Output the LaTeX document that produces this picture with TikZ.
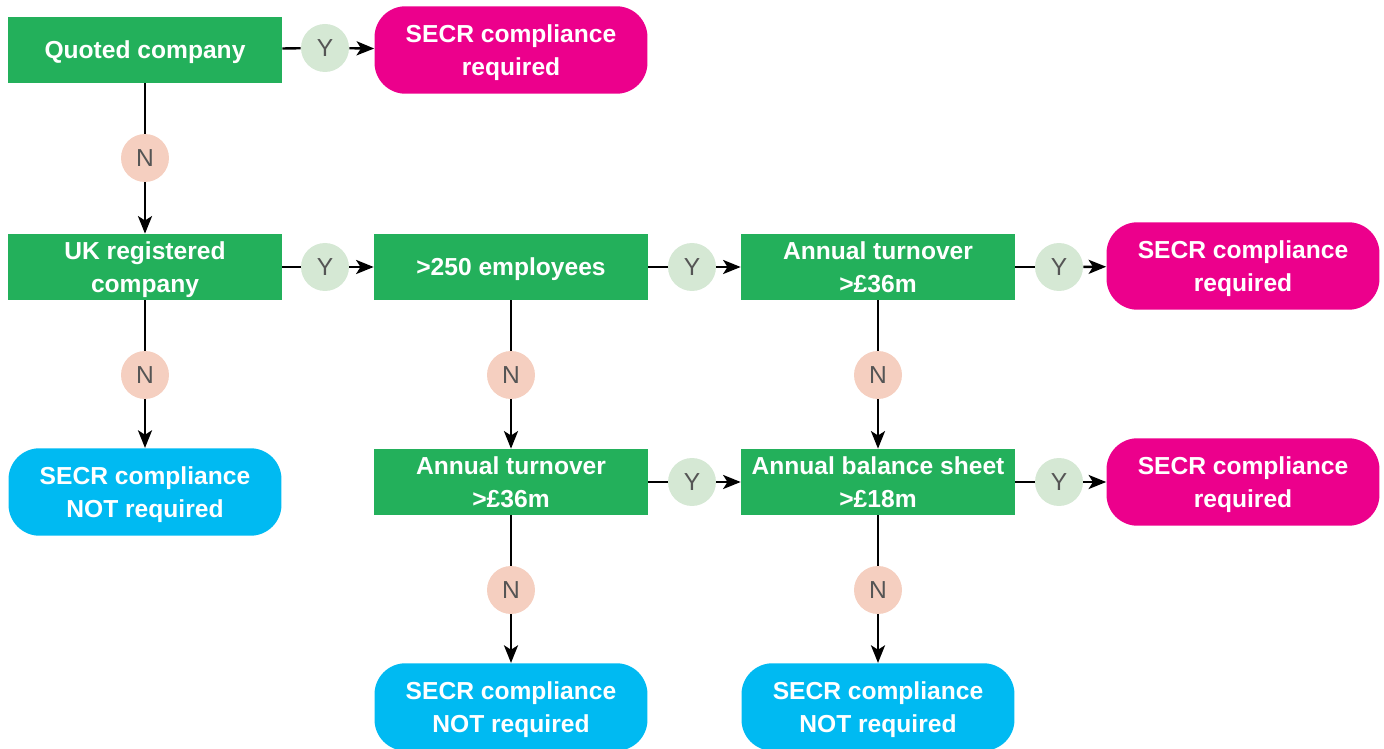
\documentclass[tikz,border=0pt]{standalone}
\usepackage{fontspec}
\setmainfont{Liberation Sans}
\usetikzlibrary{arrows.meta}

\definecolor{verde}{HTML}{23B05B}
\definecolor{rosa}{HTML}{EC008C}
\definecolor{celeste}{HTML}{00BAF2}
\definecolor{sifondo}{HTML}{D5E8D4}
\definecolor{nofondo}{HTML}{F5CFC0}
\definecolor{letra}{HTML}{555555}

\tikzset{
  pregunta/.style={fill=verde, text=white, font=\bfseries\fontsize{14}{18.8}\selectfont,
    align=center, minimum width=5.48cm, minimum height=1.32cm, inner sep=0pt,
    text depth=-1.4pt},
  final/.style={pregunta, minimum width=5.46cm, minimum height=1.75cm,
    rounded corners=0.62cm, text depth=-3.8pt},
  si/.style={circle, fill=sifondo, text=letra, font=\fontsize{14}{16}\selectfont,
    minimum size=0.96cm, inner sep=0pt},
  no/.style={si, fill=nofondo},
  linea/.style={line width=1.35pt},
  flecha/.style={linea, -{Stealth[length=10pt,width=8pt,inset=2.5pt]}}
}

\begin{document}
\begin{tikzpicture}[x=0.02cm, y=-0.02cm]
\useasboundingbox (0,0) rectangle (1384,749);
% Preguntas
\node[pregunta] (quoted) at (145,50) {Quoted company};
\node[pregunta] (uk) at (145,267) {UK registered\\company};
\node[pregunta] (empl) at (511,267) {>250 employees};
\node[pregunta] (turnA) at (878,267) {Annual turnover\\>£36m};
\node[pregunta] (turnB) at (511,482) {Annual turnover\\>£36m};
\node[pregunta] (balance) at (878,482) {Annual balance sheet\\>£18m};
% Resultados
\node[final, fill=rosa] (reqA) at (511,50) {SECR compliance\\required};
\node[final, fill=rosa] (reqB) at (1243,266) {SECR compliance\\required};
\node[final, fill=rosa] (reqC) at (1243,482) {SECR compliance\\required};
\node[final, fill=celeste] (notA) at (145,492) {SECR compliance\\NOT required};
\node[final, fill=celeste] (notB) at (511,707) {SECR compliance\\NOT required};
\node[final, fill=celeste] (notC) at (878,707) {SECR compliance\\NOT required};
% Respuestas Y
\node[si] (quotedY) at (325,48) {Y};
\node[si] (ukY) at (325,267) {Y};
\node[si] (emplY) at (692,267) {Y};
\node[si] (turnAY) at (1059,267) {Y};
\node[si] (turnBY) at (692,482) {Y};
\node[si] (balanceY) at (1059,482) {Y};
% Respuestas N
\node[no] (quotedN) at (145,158) {N};
\node[no] (ukN) at (145,375) {N};
\node[no] (emplN) at (511,375) {N};
\node[no] (turnAN) at (878,375) {N};
\node[no] (turnBN) at (511,590) {N};
\node[no] (balanceN) at (878,590) {N};
% Conexiones
\foreach \a/\b/\c in {quoted/quotedY/reqA, uk/ukY/empl, empl/emplY/turnA,
    turnA/turnAY/reqB, turnB/turnBY/balance, balance/balanceY/reqC,
    quoted/quotedN/uk, uk/ukN/notA, empl/emplN/turnB, turnA/turnAN/balance,
    turnB/turnBN/notB, balance/balanceN/notC} {
  \draw[linea] (\a) -- (\b);
  \draw[flecha] (\b) -- (\c);
}
\end{tikzpicture}
\end{document}
